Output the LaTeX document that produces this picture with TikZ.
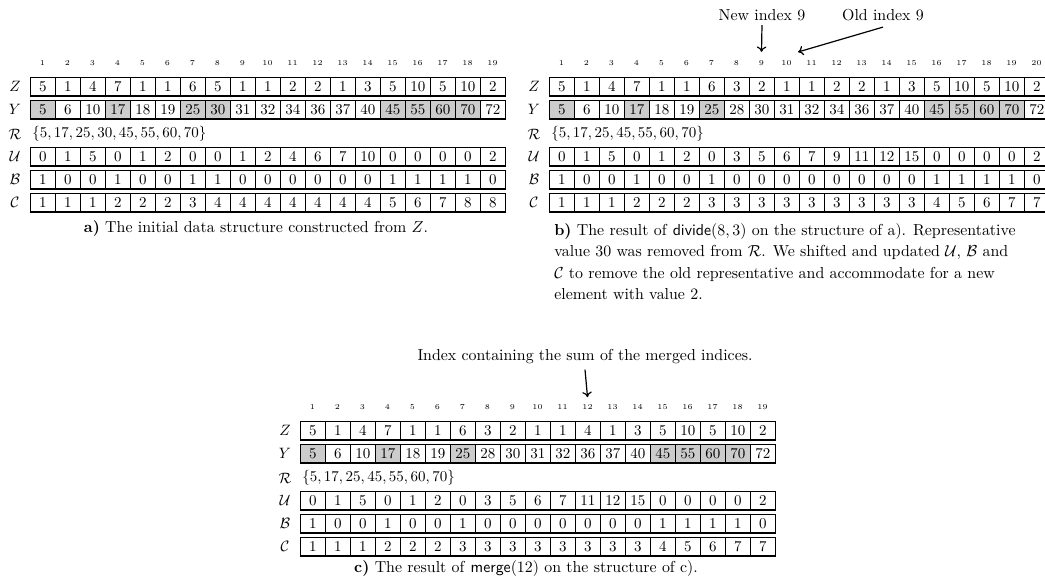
\RequirePackage{fix-cm}
\documentclass[tikz,border=0pt]{standalone}
\usetikzlibrary{calc,arrows.meta}
\definecolor{shadecol}{gray}{0.8}
\tikzset{
  cell/.style={draw, line width=0.5pt, minimum width=16.667pt, minimum height=12pt,
    inner sep=0pt, anchor=north west},
  rowbase/.style={line width=1.1pt},
  idx/.style={font=\tiny, inner sep=0pt},
  lbl/.style={inner sep=0pt},
  settext/.style={inner sep=0pt, anchor=west},
  capfont/.style={font=\fontsize{10.6}{14.3}\selectfont},
  note/.style={capfont, inner sep=0pt, anchor=base},
  capline/.style={capfont, inner sep=0pt, anchor=base west},
  pointer/.style={-{To[length=3.6pt,width=6.4pt]}, line width=0.8pt},
}
\newcommand{\plainrow}[5]{%
  \foreach \val [count=\i] in {#5} {\node[cell] (#1-\i) at ({#2+25*(\i-1)},#3) {\val};}
  \draw[rowbase] (#1-1.south west) -- (#1-#4.south east);
}
\newcommand{\shadedrow}[5]{%
  \foreach \val/\col [count=\i] in {#5} {\node[cell, fill=\col] (#1-\i) at ({#2+25*(\i-1)},#3) {\val};}
  \draw[rowbase] (#1-1.south west) -- (#1-#4.south east);
}
\newcommand{\indexrow}[4]{%
  \foreach \i in {1,...,#4} {\node[idx] (#1-\i) at ({#2+12.5+25*(\i-1)},#3) {\i};}
}
\newcommand{\labels}[3]{% prefix, x, ytop of Z row
  \node[lbl] (#1-Zl) at (#2,{#3+9}) {$Z$};
  \node[lbl] (#1-Yl) at (#2,{#3+32}) {$Y$};
  \node[lbl] (#1-Rl) at (#2,{#3+57}) {$\mathcal{R}$};
  \node[lbl] (#1-Ul) at (#2,{#3+79}) {$\mathcal{U}$};
  \node[lbl] (#1-Bl) at (#2,{#3+102}) {$\mathcal{B}$};
  \node[lbl] (#1-Cl) at (#2,{#3+125}) {$\mathcal{C}$};
}
\begin{document}
\begin{tikzpicture}[x=0.66667pt, y=-0.66667pt]
\path[use as bounding box] (0,0) rectangle (1045,586);

% ---------------- panel a ----------------
\indexrow{ai}{30}{63}{19}
\labels{a}{15}{77}
\plainrow{aZ}{30}{77}{19}{5,1,4,7,1,1,6,5,1,1,2,2,1,3,5,10,5,10,2}
\shadedrow{aY}{30}{100}{19}{5/shadecol,6/white,10/white,17/shadecol,18/white,19/white,25/shadecol,30/shadecol,31/white,32/white,34/white,36/white,37/white,40/white,45/shadecol,55/shadecol,60/shadecol,70/shadecol,72/white}
\node[settext] (aR) at (32,134) {$\{5,17,25,30,45,55,60,70\}$};
\plainrow{aU}{30}{147}{19}{0,1,5,0,1,2,0,0,1,2,4,6,7,10,0,0,0,0,2}
\plainrow{aB}{30}{170}{19}{1,0,0,1,0,0,1,1,0,0,0,0,0,0,1,1,1,1,0}
\plainrow{aC}{30}{193}{19}{1,1,1,2,2,2,3,4,4,4,4,4,4,4,5,6,7,8,8}
\node[note] (acap) at (256,232.5) {\textbf{a)} The initial data structure constructed from $Z$.};

% ---------------- panel b ----------------
\indexrow{bi}{549}{63}{20}
\labels{b}{534}{77}
\plainrow{bZ}{549}{77}{20}{5,1,4,7,1,1,6,3,2,1,1,2,2,1,3,5,10,5,10,2}
\shadedrow{bY}{549}{100}{20}{5/shadecol,6/white,10/white,17/shadecol,18/white,19/white,25/shadecol,28/white,30/white,31/white,32/white,34/white,36/white,37/white,40/white,45/shadecol,55/shadecol,60/shadecol,70/shadecol,72/white}
\node[settext] (bR) at (551,134) {$\{5,17,25,45,55,60,70\}$};
\plainrow{bU}{549}{147}{20}{0,1,5,0,1,2,0,3,5,6,7,9,11,12,15,0,0,0,0,2}
\plainrow{bB}{549}{170}{20}{1,0,0,1,0,0,1,0,0,0,0,0,0,0,0,1,1,1,1,0}
\plainrow{bC}{549}{193}{20}{1,1,1,2,2,2,3,3,3,3,3,3,3,3,3,4,5,6,7,7}
\node[capline] (bcap1) at (554,235) {\textbf{b)} The result of \textsf{divide}$(8,3)$ on the structure of a). Representative};
\node[capline] (bcap2) at (554,256.5) {value 30 was removed from $\mathcal{R}$. We shifted and updated $\mathcal{U}$, $\mathcal{B}$ and};
\node[capline] (bcap3) at (554,278) {$\mathcal{C}$ to remove the old representative and accommodate for a new};
\node[capline] (bcap4) at (554,299.5) {element with value 2.};

\node[note] (newlbl) at (762,20) {New index 9};
\node[note] (oldlbl) at (883,20) {Old index 9};
\coordinate (oldtip) at (798,52);
\draw[pointer] ([yshift=-3pt]newlbl.south) -- ([yshift=5.5pt]bi-9.north);
\draw[pointer] ([yshift=-4.3pt]oldlbl.south) -- (oldtip);

% ---------------- panel c ----------------
\indexrow{ci}{300}{407}{19}
\labels{c}{285}{421}
\plainrow{cZ}{300}{421}{19}{5,1,4,7,1,1,6,3,2,1,1,4,1,3,5,10,5,10,2}
\shadedrow{cY}{300}{444}{19}{5/shadecol,6/white,10/white,17/shadecol,18/white,19/white,25/shadecol,28/white,30/white,31/white,32/white,36/white,37/white,40/white,45/shadecol,55/shadecol,60/shadecol,70/shadecol,72/white}
\node[settext] (cR) at (302,478) {$\{5,17,25,45,55,60,70\}$};
\plainrow{cU}{300}{491}{19}{0,1,5,0,1,2,0,3,5,6,7,11,12,15,0,0,0,0,2}
\plainrow{cB}{300}{514}{19}{1,0,0,1,0,0,1,0,0,0,0,0,0,0,1,1,1,1,0}
\plainrow{cC}{300}{537}{19}{1,1,1,2,2,2,3,3,3,3,3,3,3,3,4,5,6,7,7}
\node[note] (ccap) at (526,572.5) {\textbf{c)} The result of \textsf{merge}$(12)$ on the structure of c).};

\node[note] (sumlbl) at (585,360) {Index containing the sum of the merged indices.};
\draw[pointer] ([yshift=-4pt]sumlbl.south) -- ([yshift=4.7pt]ci-12.north);
\end{tikzpicture}
\end{document}
